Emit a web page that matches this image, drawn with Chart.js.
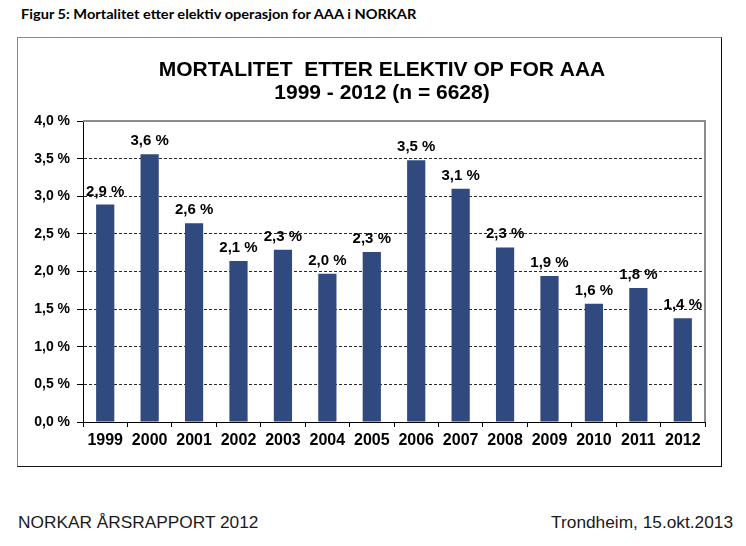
<!DOCTYPE html>
<html>
<head>
<meta charset="utf-8">
<script src="https://cdn.jsdelivr.net/npm/chart.js@4/dist/chart.umd.min.js"></script>
<style>
  body { margin: 0; background: #fff; width: 746px; height: 546px; position: relative; overflow: hidden; }
  #caption { position: absolute; left: 21px; top: 6px; font: bold 14px Lato, "Noto Sans", sans-serif; line-height: 16px; color: #000; white-space: nowrap; transform-origin: 0 0; }
  #box { position: absolute; left: 17px; top: 37px; width: 703px; height: 428px; border: 1px solid #111; border-top-color: #8a8a8a; border-left-color: #8a8a8a; }
  #chart { position: absolute; left: 18px; top: 38px; display: block; }
  .foot { position: absolute; top: 512px; font: 17.3px "Liberation Sans", Arial, sans-serif; line-height: 20px; color: #1a1a1a; white-space: nowrap; }
</style>
</head>
<body>
<div id="caption">Figur 5: Mortalitet etter elektiv operasjon for AAA i NORKAR</div>
<div id="box"></div>
<canvas id="chart" width="728" height="428"></canvas>
<div class="foot" style="left:18px">NORKAR ÅRSRAPPORT 2012</div>
<div class="foot" style="right:13px">Trondheim, 15.okt.2013</div>
<script>
const years = ['1999', '2000', '2001', '2002', '2003', '2004', '2005', '2006', '2007', '2008', '2009', '2010', '2011', '2012'];
const mortality = [2.89, 3.56, 2.64, 2.14, 2.29, 1.97, 2.26, 3.48, 3.10, 2.32, 1.94, 1.57, 1.78, 1.38];
const titleLines = ['MORTALITET  ETTER ELEKTIV OP FOR AAA', '1999 - 2012 (n = 6628)'];

// stretch caption to the width it has in the report
const cap = document.getElementById('caption');
cap.style.transform = 'scaleX(' + (395 / cap.scrollWidth) + ')';

const pct = v => v.toFixed(1).replace('.', ',') + ' %';
const font = 'Liberation Sans, Arial, sans-serif';

// gray frame on top and right of the plot area
const plotFrame = {
    id: 'plotFrame',
    beforeDatasetsDraw(chart) {
        const { ctx, chartArea: a } = chart;
        ctx.save();
        ctx.strokeStyle = '#8c8c8c';
        ctx.lineWidth = 2;
        ctx.beginPath();
        ctx.moveTo(a.left, a.top);
        ctx.lineTo(a.right, a.top);
        ctx.lineTo(a.right, a.bottom);
        ctx.stroke();
        ctx.restore();
    }
};

// value labels above bars
const barLabels = {
    id: 'barLabels',
    afterDatasetsDraw(chart) {
        const ctx = chart.ctx;
        const meta = chart.getDatasetMeta(0);
        ctx.save();
        ctx.font = 'bold 15px ' + font;
        ctx.fillStyle = '#000';
        ctx.textAlign = 'center';
        ctx.textBaseline = 'alphabetic';
        meta.data.forEach((bar, i) => {
            ctx.fillText(pct(mortality[i]), bar.x, bar.y - 9);
        });
        ctx.restore();
    }
};

new Chart(document.getElementById('chart'), {
    type: 'bar',
    data: {
        labels: years,
        datasets: [{
            data: mortality,
            backgroundColor: '#30497e',
            borderWidth: 0,
            barPercentage: 0.41,
            categoryPercentage: 1
        }]
    },
    options: {
        responsive: false,
        animation: false,
        devicePixelRatio: 1,
        layout: { padding: 0 },
        plugins: {
            legend: { display: false },
            tooltip: { enabled: false },
            title: {
                display: true,
                text: titleLines,
                color: '#000',
                font: { family: font, size: 21, weight: 'bold', lineHeight: 1.12 },
                padding: { top: 20, bottom: 16 }
            }
        },
        scales: {
            x: {
                offset: true,
                afterFit: s => { s.height = 44; },
                grid: { drawOnChartArea: false, drawTicks: true, tickLength: 5, color: '#000', tickColor: '#000' },
                border: { color: '#000', width: 1 },
                ticks: { color: '#000', font: { family: font, size: 16, weight: 'bold' }, padding: 4, maxRotation: 0, autoSkip: false }
            },
            y: {
                min: 0,
                max: 4,
                afterFit: s => { s.width = 65; },
                grid: {
                    color: c => (c.tick && c.tick.value === 4) ? 'rgba(0,0,0,0)' : '#2a2a2a',
                    lineWidth: 1,
                    tickLength: 6,
                    tickColor: '#000',
                    tickBorderDash: []
                },
                border: { color: '#000', width: 1, dash: [3, 2] },
                ticks: { stepSize: 0.5, color: '#000', padding: 7, font: { family: font, size: 14, weight: 'bold' }, callback: v => pct(v) }
            },
            // empty right-hand space so the title stays centred on the whole canvas
            spacer: {
                type: 'linear',
                position: 'right',
                afterFit: s => { s.width = 41; },
                grid: { display: false },
                border: { display: false },
                ticks: { display: false }
            }
        }
    },
    plugins: [plotFrame, barLabels]
});
</script>
</body>
</html>
